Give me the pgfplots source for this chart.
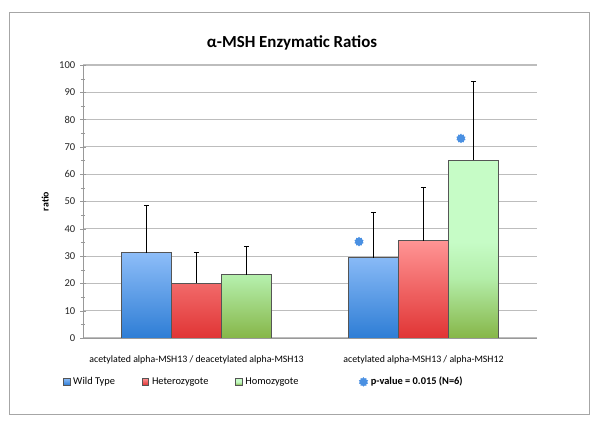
\documentclass[border=0pt]{standalone}
\usepackage{fontspec}
\setmainfont{Carlito}
\usepackage{pgfplots}
\pgfplotsset{compat=1.18}
\usetikzlibrary{shapes.geometric}

\definecolor{bluetop}{HTML}{8DBDF8}
\definecolor{bluebot}{HTML}{2E7DD5}
\definecolor{redtop}{HTML}{FF9494}
\definecolor{redbot}{HTML}{E03434}
\definecolor{greentop}{HTML}{C6FCC6}
\definecolor{greenmid}{HTML}{B4EEAA}
\definecolor{greenbot}{HTML}{86B648}
\definecolor{starblue}{HTML}{4A90E2}
\definecolor{gridgray}{HTML}{BDBDBD}
\definecolor{bardraw}{HTML}{555555}

\pgfdeclareverticalshading{greenbar}{100bp}{color(0bp)=(greenbot); color(25bp)=(greenbot);
  color(42bp)=(greenmid); color(52bp)=(greentop); color(100bp)=(greentop)}

\pgfdeclareplotmark{gear}{%
  \node[star,star points=10,star point ratio=1.3,fill=starblue,draw=none,
    inner sep=0pt,minimum size=2\pgfplotmarksize] {};}

\pgfplotsset{
  sqlegend/.style={legend image code/.code={\draw[##1,line width=0.5pt] (0pt,-2.2pt) rectangle (4.8pt,2.6pt);}},
  starlegend/.style={legend image code/.code={\draw[##1] plot coordinates {(0.1cm,0cm)};}},
}

\begin{document}
\begin{tikzpicture}
\useasboundingbox (0,0) rectangle (15cm,10.65cm);
\draw[gray!70,line width=0.6pt] (0.225cm,0.3cm) rectangle (14.725cm,10.35cm);
\node[font=\fontsize{12}{14}\selectfont\bfseries] at (7.3cm,9.575cm) {α-MSH Enzymatic Ratios};

\begin{axis}[
  at={(2.075cm,2.2cm)},anchor=south west,
  scale only axis,width=11.35cm,height=6.825cm,
  xmin=-0.5,xmax=1.5,ymin=0,ymax=100,
  axis x line=bottom,axis y line=left,
  axis line style={-,gray!80,line width=0.7pt},
  xtick={0,1},
  xticklabels={acetylated alpha-MSH13 / deacetylated alpha-MSH13, acetylated alpha-MSH13 / alpha-MSH12},
  x tick label style={font=\fontsize{7}{8}\selectfont,yshift=-7pt},
  xtick style={draw=none},
  extra x ticks={0.5,1.5},extra x tick labels={},
  extra x tick style={tick align=outside,major tick length=3pt,tick style={gray!80,draw=gray!80}},
  ytick={0,10,...,100},minor y tick num=1,
  y tick label style={font=\fontsize{7.5}{8}\selectfont,text=black!85},
  /pgf/number format/assume math mode=true,
  ytick style={gray!80},tick align=center,
  major tick length=4pt,minor tick length=3pt,
  ymajorgrids,grid style={gridgray,line width=0.8pt},
  ylabel={ratio},
  ylabel style={font=\fontsize{7}{8}\selectfont\bfseries,at={(axis description cs:-0.083,0.5)},anchor=center},
  legend style={at={(axis description cs:-0.054,-0.161)},anchor=west,draw=none,fill=none,
    font=\fontsize{7.4}{8}\selectfont,legend columns=4,
    /tikz/every even column/.append style={column sep=17pt}},
  error bars/y dir=plus,error bars/y explicit,
  error bars/error bar style={black,line width=0.6pt},
  error bars/error mark options={rotate=90,black,mark size=1.8pt,line width=0.6pt},
]
% bars placed at their own x: group centre -/0/+ one bar width (1.25cm = 0.2203 units)
\addplot[ybar,bar width=1.25cm,bar shift=0pt,draw=bardraw,line width=0.7pt,
  top color=bluetop,bottom color=bluebot,sqlegend]
  coordinates {(-0.2203,31.2) +- (0,17.5) (0.7797,29.4) +- (0,16.5)};
\addlegendentry{Wild Type}
\addplot[ybar,bar width=1.25cm,bar shift=0pt,draw=bardraw,line width=0.7pt,
  top color=redtop,bottom color=redbot,sqlegend]
  coordinates {(0,20.0) +- (0,11.2) (1,35.6) +- (0,19.6)};
\addlegendentry{Heterozygote}
\addplot[ybar,bar width=1.25cm,bar shift=0pt,draw=bardraw,line width=0.7pt,
  shading=greenbar,sqlegend]
  coordinates {(0.2203,23.1) +- (0,10.6) (1.2203,65.2) +- (0,28.9)};
\addlegendentry{Homozygote\rule{24pt}{0pt}}
\addplot[only marks,mark=gear,mark size=3.4pt,
  error bars/y dir=none,starlegend]
  coordinates {(0.716,35.3) (1.165,73.1)};
\addlegendentry{\bfseries p-value = 0.015 (N=6)}
\end{axis}
\end{tikzpicture}
\end{document}
